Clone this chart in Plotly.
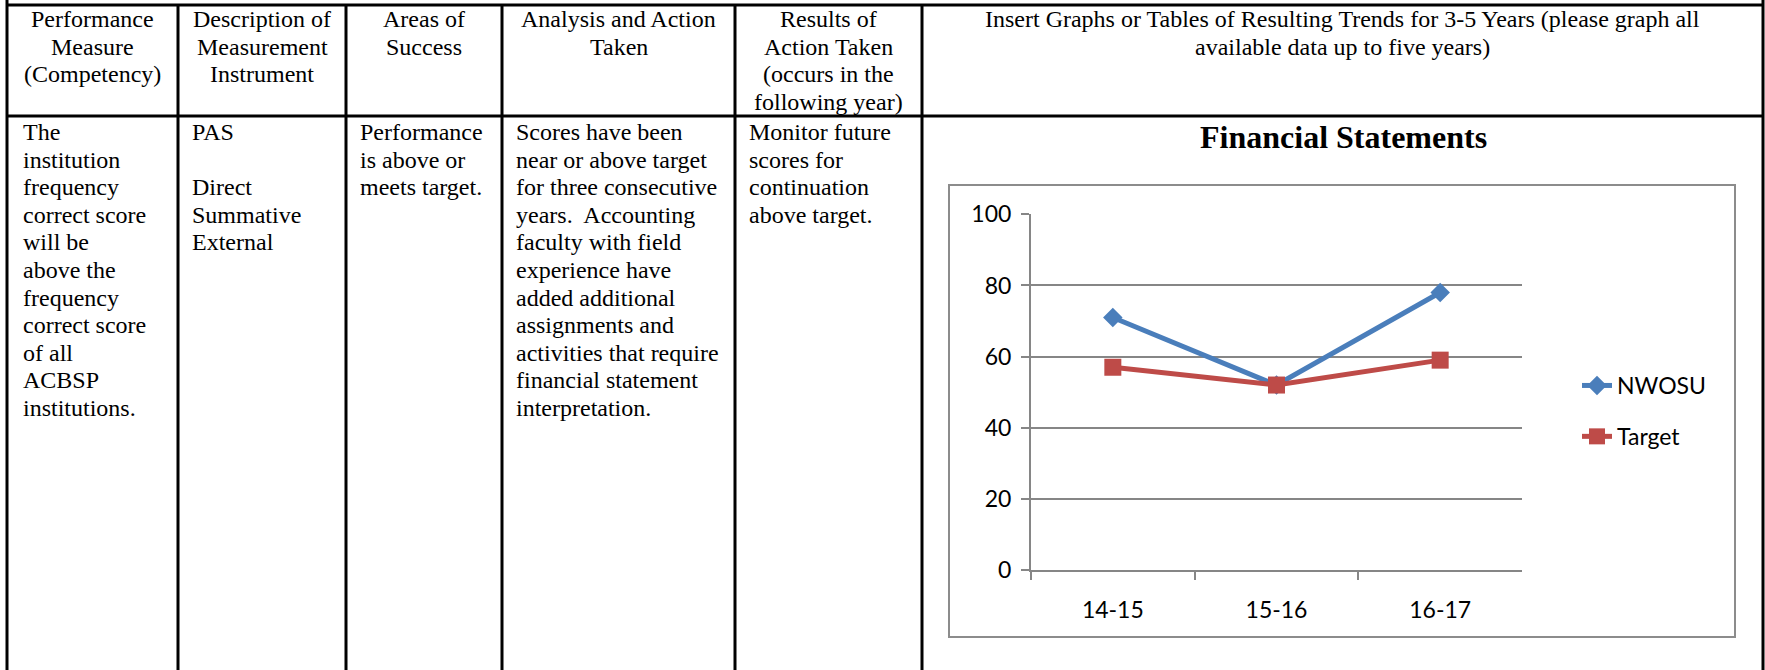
import plotly.graph_objects as go

# ---------------- data ----------------
years = ["14-15", "15-16", "16-17"]
nwosu = [71, 52, 78]
target = [57, 52, 59]
series_names = ["NWOSU", "Target"]
chart_title = "Financial Statements"
y_ticks = [0, 20, 40, 60, 80, 100]

header_cells = [
    ["Performance", "Measure", "(Competency)"],
    ["Description of", "Measurement", "Instrument"],
    ["Areas of", "Success"],
    ["Analysis and Action", "Taken"],
    ["Results of", "Action Taken", "(occurs in the", "following year)"],
    ["Insert Graphs or Tables of Resulting Trends for 3-5 Years (please graph all",
     "available data up to five years)"],
]
body_cells = [
    ["The", "institution", "frequency", "correct score", "will be", "above the",
     "frequency", "correct score", "of all", "ACBSP", "institutions."],
    ["PAS", "", "Direct", "Summative", "External"],
    ["Performance", "is above or", "meets target."],
    ["Scores have been", "near or above target", "for three consecutive",
     "years.\u00a0 Accounting", "faculty with field", "experience have",
     "added additional", "assignments and", "activities that require",
     "financial statement", "interpretation."],
    ["Monitor future", "scores for", "continuation", "above target."],
]

# ---------------- layout geometry (pixels) ----------------
W, H = 1765, 670
col_x = [7, 178, 346, 502, 735, 922, 1763]
top_y = 5
head_y = 116
line_h = 27.6
serif = "Liberation Serif, Times New Roman, serif"
sans = "Lato, Calibri, sans-serif"


def px(x):
    return x / W


def py(y):
    return 1 - y / H


fig = go.Figure()
fig.add_trace(go.Scatter(
    x=years, y=nwosu, name=series_names[0], mode="lines+markers",
    line=dict(color="#4A7EBB", width=5),
    marker=dict(symbol="diamond", size=15, color="#4A7EBB"),
    legendgroup="a"))
fig.add_trace(go.Scatter(
    x=years, y=target, name=series_names[1], mode="lines+markers",
    line=dict(color="#BE4B48", width=5),
    marker=dict(symbol="square", size=17, color="#BE4B48"),
    legendgroup="b"))

shapes = []
blk = dict(color="black", width=3)
for i, x in enumerate(col_x):
    y0 = 0 if i in (0, len(col_x) - 1) else top_y
    shapes.append(dict(type="line", xref="paper", yref="paper",
                       x0=px(x), x1=px(x), y0=py(y0), y1=py(H), line=blk))
for y in (top_y, head_y):
    shapes.append(dict(type="line", xref="paper", yref="paper",
                       x0=px(col_x[0]), x1=px(col_x[-1]), y0=py(y), y1=py(y), line=blk))
shapes.append(dict(type="rect", xref="paper", yref="paper",
                   x0=px(949), x1=px(1735), y0=py(637), y1=py(185),
                   line=dict(color="#8C8C8C", width=2)))

annotations = []
for c, lines in enumerate(header_cells):
    cx = (col_x[c] + col_x[c + 1]) / 2
    for i, t in enumerate(lines):
        annotations.append(dict(
            x=px(cx), y=py(19 + i * line_h), xref="paper", yref="paper",
            text=t, showarrow=False, xanchor="center", yanchor="middle",
            font=dict(family=serif, size=24, color="black")))
for c, lines in enumerate(body_cells):
    lx = col_x[c] + (14 if c == 0 else 12)
    for i, t in enumerate(lines):
        if not t:
            continue
        annotations.append(dict(
            x=px(lx), y=py(132 + i * line_h), xref="paper", yref="paper",
            text=t, showarrow=False, xanchor="left", yanchor="middle",
            font=dict(family=serif, size=24, color="black")))
annotations.append(dict(
    x=px(1343), y=py(137), xref="paper", yref="paper",
    text="<b>" + chart_title + "</b>", showarrow=False,
    xanchor="center", yanchor="middle",
    font=dict(family=serif, size=32, color="black")))

grid = "#868686"
fig.update_layout(
    width=W, height=H,
    margin=dict(l=0, r=0, t=0, b=0, autoexpand=False),
    paper_bgcolor="white", plot_bgcolor="white",
    shapes=shapes, annotations=annotations,
    showlegend=True,
    legend=dict(x=px(1577), y=py(411), xanchor="left", yanchor="middle",
                traceorder="grouped", tracegroupgap=18,
                font=dict(family=sans, size=23, color="black"),
                bgcolor="rgba(0,0,0,0)"),
    xaxis=dict(domain=[px(1031), px(1522)], type="category", automargin=False,
               range=[-0.5, 2.5], showline=True, linecolor=grid, linewidth=2,
               showgrid=False, zeroline=False, ticks="outside", tickson="boundaries",
               ticklen=8, tickwidth=2, tickcolor=grid, ticklabelstandoff=18,
               tickfont=dict(family=sans, size=23, color="black")),
    yaxis=dict(domain=[py(570), py(214.3)], range=[0, 100], automargin=False,
               tickvals=y_ticks, showline=True, linecolor=grid, linewidth=2,
               showgrid=True, gridcolor=grid, gridwidth=2, zeroline=False,
               ticks="outside", ticklen=8, tickwidth=2, tickcolor=grid,
               ticklabelstandoff=5,
               tickfont=dict(family=sans, size=23, color="black")),
)

fig.write_html("out.html", config={"displayModeBar": False},
               post_script="document.body.style.margin='0px';document.body.style.overflow='hidden';")
